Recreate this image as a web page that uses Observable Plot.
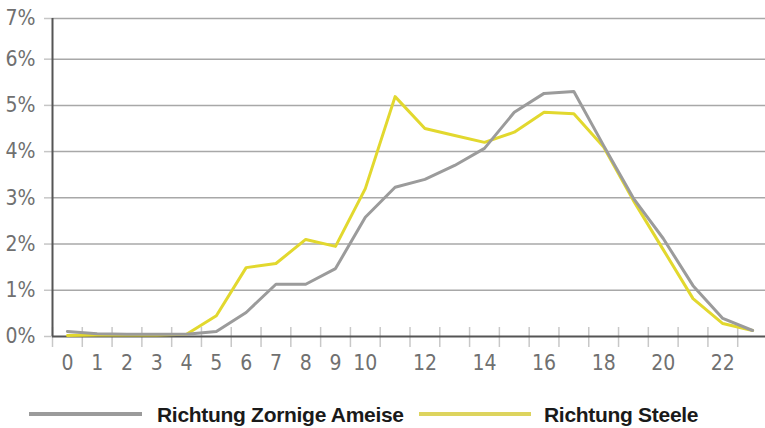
<!DOCTYPE html>
<html><head><meta charset="utf-8">
<script src="https://cdn.jsdelivr.net/npm/d3@7"></script>
<script src="https://cdn.jsdelivr.net/npm/@observablehq/plot@0.6"></script>
<style>
body{margin:0;background:#fff;width:765px;height:428px;overflow:hidden}
#legend{position:relative;height:40px;font-family:"Liberation Sans",Arial,sans-serif;font-weight:bold;font-size:21px;color:#1a1a1a;letter-spacing:-0.3px}
.sw{position:absolute;height:4px;top:24px}
.tx{position:absolute;top:16px;line-height:21px;white-space:nowrap}
</style></head><body>
<div id="chart"></div>
<div id="legend"></div>
<script>
const hours = [0,1,2,3,4,5,6,7,8,9,10,11,12,13,14,15,16,17,18,19,20,21,22,23];
const zornige = [0.11,0.06,0.05,0.05,0.05,0.11,0.52,1.13,1.13,1.47,2.58,3.23,3.40,3.70,4.07,4.85,5.26,5.30,4.13,2.99,2.12,1.10,0.39,0.13];
const steele  = [0.02,0.03,0.03,0.03,0.05,0.45,1.49,1.58,2.10,1.95,3.20,5.19,4.50,4.35,4.20,4.42,4.85,4.82,4.10,2.94,1.88,0.82,0.28,0.13];
const seriesNames = ["Richtung Zornige Ameise","Richtung Steele"];
const seriesColors = ["#9b9b9b","#e2d82e"];
const legendColors = ["#9b9b9b","#ddd45e"];
const yTicks = [0,1,2,3,4,5,6,6.88];
const xLabels = [0,1,2,3,4,5,6,7,8,9,10,12,14,16,18,20,22];

const rows = [];
hours.forEach((h,i)=>{
  rows.push({hour:h, value:steele[i], series:seriesNames[1]});
  rows.push({hour:h, value:zornige[i], series:seriesNames[0]});
});
const xBounds = hours.map(h=>h-0.5);
const font = '"Liberation Sans Narrow","Arial Narrow","DejaVu Sans Condensed",sans-serif';

const chart = Plot.plot({
  width:765, height:388,
  marginLeft:52, marginTop:18, marginBottom:52, marginRight:-2,
  x:{type:"linear", domain:[-0.5,23.5], label:null},
  y:{domain:[0,6.88], label:null},
  color:{domain:seriesNames, range:seriesColors},
  style:{fontFamily:font, fontSize:"21px", color:"#707070", background:"white", overflow:"visible"},
  marks:[
    Plot.gridY(yTicks.slice(1), {stroke:"#a8a8a8", strokeOpacity:1, strokeWidth:1.5}),
    Plot.axisY(yTicks, {tickSize:8, tickPadding:9, stroke:"#c6c6c6", strokeWidth:1.5, fill:"#707070", tickFormat:d=>Math.round(d)+"%", label:null}),
    Plot.ruleX(xBounds, {y1:0, y2:0, insetTop:-9, insetBottom:-11, stroke:"#c8c8c8", strokeWidth:1.5}),
    Plot.axisX(xLabels, {tickSize:0, tickPadding:19, fill:"#707070", label:null}),
    Plot.ruleY([0], {stroke:"#555", strokeWidth:2}),
    Plot.ruleX([xBounds[0]], {stroke:"#555", strokeWidth:2}),
    Plot.line(rows.filter(d=>d.series===seriesNames[1]), {x:"hour", y:"value", stroke:"series", strokeWidth:3, strokeLinejoin:"round"}),
    Plot.line(rows.filter(d=>d.series===seriesNames[0]), {x:"hour", y:"value", stroke:"series", strokeWidth:3, strokeLinejoin:"round"})
  ]
});
document.getElementById("chart").appendChild(chart);

const legend = document.getElementById("legend");
const swLeft = [29, 419], swWidth = [113, 112], txLeft = [157, 544];
seriesNames.forEach((n,i)=>{
  const sw = document.createElement("div"); sw.className="sw";
  sw.style.background=legendColors[i]; sw.style.left=swLeft[i]+"px"; sw.style.width=swWidth[i]+"px";
  const tx = document.createElement("span"); tx.className="tx";
  tx.textContent=n; tx.style.left=txLeft[i]+"px";
  legend.appendChild(sw); legend.appendChild(tx);
});
</script>
</body></html>
